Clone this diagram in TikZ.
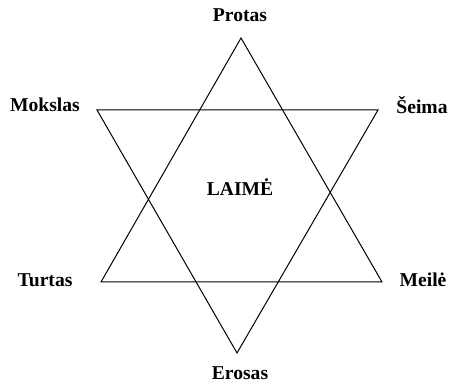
\documentclass[tikz,border=0pt]{standalone}
\usepackage{fontspec}
\setmainfont{Liberation Serif}
\usepackage{tikz}
\usetikzlibrary{positioning}
\tikzset{
  lbl/.style={font=\bfseries\fontsize{9.8}{12}\selectfont, inner sep=0pt},
  side/.style={draw=black, line width=0.5pt, line join=miter}
}
\begin{document}
\begin{tikzpicture}[x=0.5pt,y=-0.5pt]
  \useasboundingbox (0,0) rectangle (450,384);
  % corners of the two triangles
  \coordinate (protas) at (241,38);
  \coordinate (turtas) at (101,282);
  \coordinate (meile) at (382,282);
  \coordinate (mokslas) at (97,110);
  \coordinate (seima) at (378,110);
  \coordinate (erosas) at (237,353);
  \draw[side] (protas) -- (meile) -- (turtas) -- cycle;
  \draw[side] (mokslas) -- (seima) -- (erosas) -- cycle;
  % labels
  \node[lbl] (lprotas) at (240,15) {Protas};
  \node[lbl] (lmokslas) at (45,105) {Mokslas};
  \node[lbl] (lseima) at (422,105) {Šeima};
  \node[lbl] (lturtas) at (45,280) {Turtas};
  \node[lbl] (lmeile) at (423,280) {Meilė};
  \node[lbl] (lerosas) at (240,373) {Erosas};
  \node[lbl] (laime) at (240,187) {LAIMĖ};
\end{tikzpicture}
\end{document}
